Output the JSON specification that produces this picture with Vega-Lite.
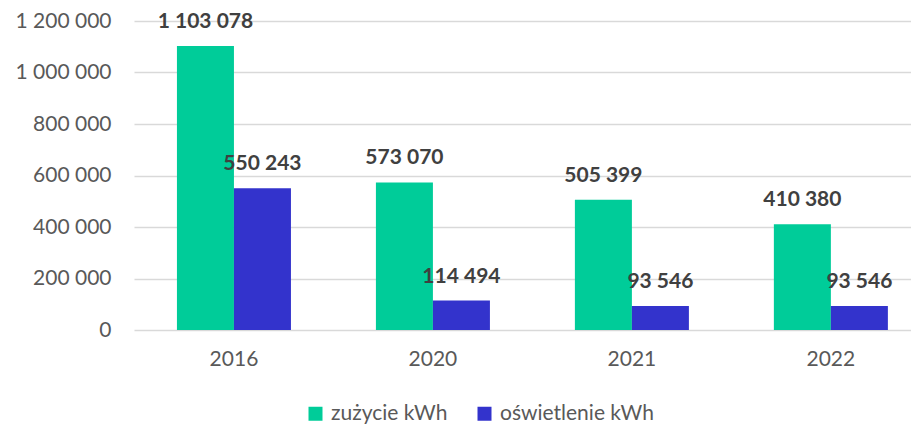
{
  "$schema": "https://vega.github.io/schema/vega-lite/v6.json",
  "autosize": {"type": "none"},
  "width": 777,
  "height": 309,
  "padding": {"left": 134, "top": 21, "right": 0, "bottom": 94},
  "background": "#ffffff",
  "config": {
    "locale": {"number": {"decimal": ",", "thousands": " ", "grouping": [3], "currency": ["", " zł"]}},
    "view": {"stroke": null},
    "font": "Lato"
  },
  "data": {
    "values": [
      {"year": "2016", "series": "zużycie kWh", "value": 1103078},
      {"year": "2016", "series": "oświetlenie kWh", "value": 550243},
      {"year": "2020", "series": "zużycie kWh", "value": 573070},
      {"year": "2020", "series": "oświetlenie kWh", "value": 114494},
      {"year": "2021", "series": "zużycie kWh", "value": 505399},
      {"year": "2021", "series": "oświetlenie kWh", "value": 93546},
      {"year": "2022", "series": "zużycie kWh", "value": 410380},
      {"year": "2022", "series": "oświetlenie kWh", "value": 93546}
    ]
  },
  "encoding": {
    "x": {
      "field": "year", "type": "nominal",
      "scale": {"paddingInner": 0.427, "paddingOuter": 0.166, "align": 0.65},
      "axis": {"title": null, "labelAngle": 0, "ticks": false, "domain": false, "labelFont": "Lato", "labelFontSize": 21, "labelColor": "#595959", "labelPadding": 18}
    },
    "xOffset": {"field": "series", "type": "nominal", "sort": ["zużycie kWh", "oświetlenie kWh"], "scale": {"paddingInner": 0, "paddingOuter": 0}},
    "y": {
      "field": "value", "type": "quantitative",
      "scale": {"domain": [0, 1200000], "nice": false},
      "axis": {"title": null, "values": [0, 200000, 400000, 600000, 800000, 1000000, 1200000], "format": ",d", "ticks": false, "domain": false, "grid": true, "gridColor": "#D9D9D9", "gridWidth": 1.3, "labelFont": "Lato", "labelFontSize": 21, "labelColor": "#595959", "labelPadding": 23}
    }
  },
  "layer": [
    {
      "mark": {"type": "bar"},
      "encoding": {
        "color": {
          "field": "series", "type": "nominal",
          "scale": {"domain": ["zużycie kWh", "oświetlenie kWh"], "range": ["#00CC99", "#3333CC"]},
          "legend": {
            "title": null, "orient": "none", "direction": "horizontal",
            "legendX": 171, "legendY": 382, "padding": 0,
            "symbolType": "square", "symbolSize": 196, "symbolStrokeWidth": 0, "symbolOpacity": 1,
            "labelFont": "Lato", "labelFontSize": 21, "labelColor": "#595959", "labelOffset": 5,
            "columnPadding": 26
          }
        }
      }
    },
    {
      "mark": {"type": "text", "baseline": "alphabetic", "dy": -18, "fontWeight": "bold", "fontSize": 21, "font": "Lato", "color": "#404040"},
      "encoding": {
        "text": {"field": "value", "type": "quantitative", "format": ",d"}
      }
    }
  ]
}
